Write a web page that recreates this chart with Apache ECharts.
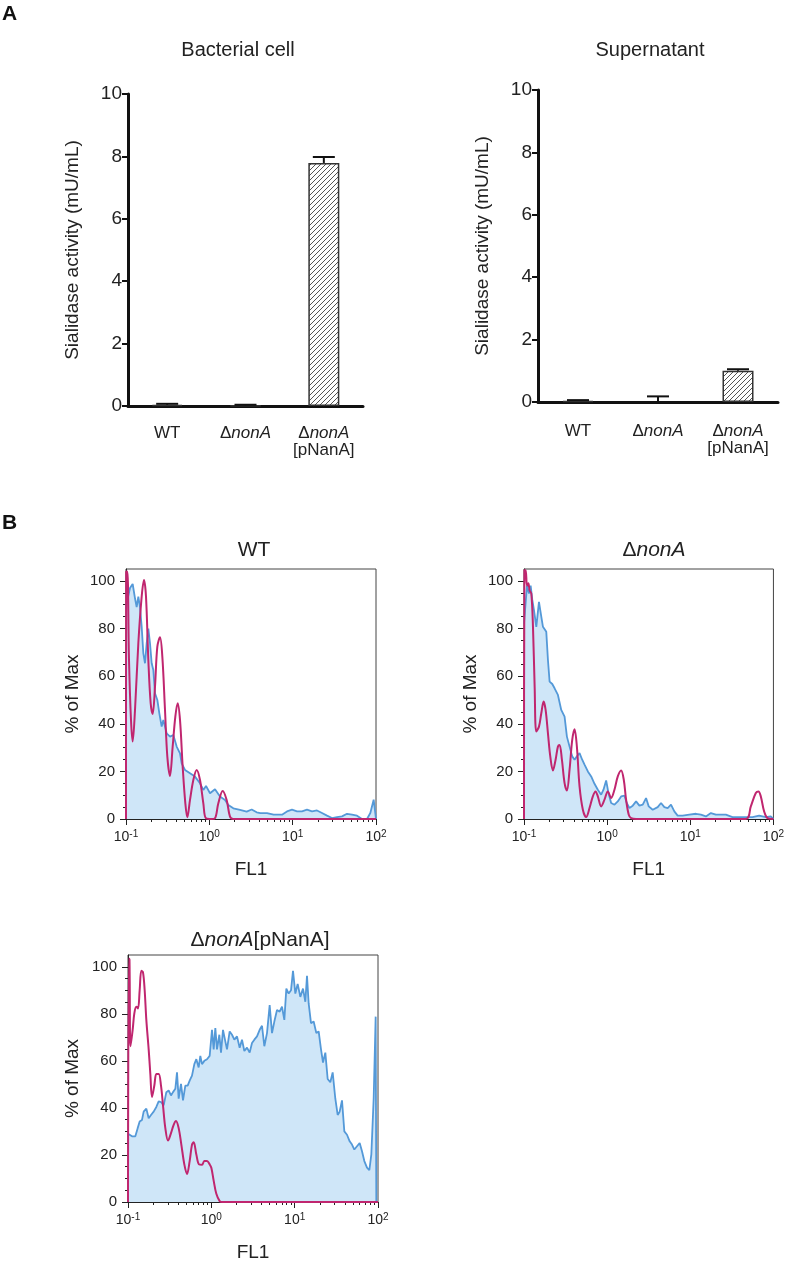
<!DOCTYPE html>
<html><head><meta charset="utf-8">
<script src="https://cdn.jsdelivr.net/npm/echarts@6/dist/echarts.min.js"></script>
<style>html,body{margin:0;padding:0;background:#fff}#c{width:787px;height:1263px}</style>
</head><body><div id="c"></div>
<script>
// ---------- Panel A data ----------
const barCategories = ['WT', 'ΔnonA', 'ΔnonA[pNanA]'];
const cellMeans = [0.04, 0.02, 7.79];
const cellErrors = [0.03, 0.02, 0.19];
const supernatantMeans = [0.03, -0.02, 1.0];
const supernatantErrors = [0.03, 0.2, 0.05];
const activityTicks = [0, 2, 4, 6, 8, 10];

// ---------- Panel B data: [log10(FL1), % of Max] ----------
const histYTicks = [0, 20, 40, 60, 80, 100];
const histYMinorTicks = [5, 10, 15, 25, 30, 35, 45, 50, 55, 65, 70, 75, 85, 90, 95];
const histXDecades = [-1, 0, 1, 2];
const histXMinorTicks = [2, 3, 4, 5, 6, 7, 8, 9]; // multiples within each decade

const wtBlue = [[-1.0,88],[-0.992,90.6],[-0.952,97],[-0.92,98.7],[-0.892,92.7],[-0.872,89],[-0.852,93.4],[-0.832,89],[-0.812,80.8],[-0.792,69.6],[-0.772,65.4],[-0.752,73.8],[-0.732,80],[-0.712,73.8],[-0.692,65.4],[-0.672,62.6],[-0.652,52.8],[-0.624,50],[-0.6,44.4],[-0.572,38.8],[-0.552,41.6],[-0.512,36],[-0.472,34.6],[-0.432,35.3],[-0.392,30.4],[-0.352,27.6],[-0.332,23.4],[-0.292,20.6],[-0.232,19.2],[-0.172,17.8],[-0.112,15],[-0.072,12.2],[-0.04,13.9],[0.008,10.8],[0.068,12.5],[0.128,9.4],[0.188,8],[0.228,5.9],[0.288,4.5],[0.368,3.8],[0.448,3.1],[0.508,4],[0.568,2.8],[0.612,2.5],[0.692,2.5],[0.772,1.8],[0.872,1.8],[0.932,3.2],[0.992,3.9],[1.052,3.2],[1.112,3.2],[1.172,3.9],[1.232,3.2],[1.292,3.6],[1.352,2.5],[1.412,1.4],[1.472,0.4],[1.532,0.8],[1.592,1.1],[1.652,2.2],[1.712,1.8],[1.772,1.4],[1.832,0],[1.892,0],[1.932,2.5],[1.972,8.1],[2.0,0]];
const wtMagenta = [[-1.0,0],[-0.998,104],[-0.984,104],[-0.964,66.8],[-0.94,41.6],[-0.92,32.5],[-0.892,45.8],[-0.852,73.8],[-0.812,93.4],[-0.784,100.4],[-0.76,93.4],[-0.732,66.8],[-0.704,48.6],[-0.68,44.1],[-0.652,55.6],[-0.624,72.4],[-0.592,76.3],[-0.564,68.2],[-0.532,45.8],[-0.504,26.2],[-0.472,18.1],[-0.44,30.4],[-0.408,43],[-0.38,48.6],[-0.352,41.6],[-0.32,22],[-0.288,6.6],[-0.264,0.7],[-0.232,8],[-0.192,16.4],[-0.152,20.6],[-0.112,16.4],[-0.072,6.6],[-0.04,0.3],[0.028,0],[0.068,0.3],[0.108,6.6],[0.16,11.8],[0.208,8],[0.248,1],[0.288,0],[2.0,0]];

const nonABlue = [[-1.0,82],[-0.98,82],[-0.964,98],[-0.94,94.7],[-0.92,98],[-0.9,92],[-0.88,87.7],[-0.852,80.7],[-0.82,91.2],[-0.792,85],[-0.772,80.7],[-0.752,81.4],[-0.732,78.6],[-0.712,66.8],[-0.692,57.7],[-0.66,56.7],[-0.632,54.9],[-0.592,52.1],[-0.552,45.8],[-0.512,43],[-0.484,34.6],[-0.452,30.4],[-0.42,26.3],[-0.392,24.9],[-0.364,26.3],[-0.332,27.7],[-0.3,24.9],[-0.272,22.8],[-0.232,20],[-0.192,17.9],[-0.152,14.8],[-0.112,12.3],[-0.072,10.2],[-0.044,12.3],[-0.012,16.2],[0.016,10.9],[0.048,6.7],[0.088,6],[0.128,7.4],[0.168,9.5],[0.208,9.8],[0.236,6.7],[0.268,4.6],[0.308,5.6],[0.348,7.4],[0.388,5.6],[0.428,6],[0.468,8.8],[0.5,5.3],[0.548,3.9],[0.608,5],[0.648,6.7],[0.688,5],[0.728,4.6],[0.768,6],[0.808,3.2],[0.848,1.4],[0.908,1.4],[0.988,1.8],[1.068,2.2],[1.128,1.8],[1.188,1.1],[1.248,2.5],[1.308,1.8],[1.368,1.8],[1.428,1.8],[1.508,0.8],[1.588,0.8],[1.668,0.8],[1.748,0.8],[1.828,1.4],[1.908,0.8],[1.968,1.1],[2.0,0]];
const nonAMagenta = [[-1.0,0],[-0.995,104.5],[-0.98,104.5],[-0.964,98],[-0.948,99],[-0.932,96],[-0.912,94.7],[-0.892,80.7],[-0.872,55.6],[-0.852,36.7],[-0.82,38.8],[-0.792,44.4],[-0.764,49.3],[-0.74,45.8],[-0.712,36],[-0.684,26.3],[-0.652,20.4],[-0.62,24.9],[-0.592,30.4],[-0.572,31.1],[-0.544,24.9],[-0.512,15.1],[-0.484,12],[-0.452,20.7],[-0.42,33.2],[-0.392,37.7],[-0.364,30.4],[-0.332,13.7],[-0.292,3.9],[-0.252,0.8],[-0.212,4.6],[-0.172,9.5],[-0.14,11.6],[-0.112,9.5],[-0.072,5.3],[-0.032,8.1],[0.008,11.6],[0.048,8.8],[0.088,12.3],[0.128,17.9],[0.168,20.4],[0.2,16.5],[0.228,8.1],[0.26,1.8],[0.288,0.4],[0.348,0],[1.668,0],[1.728,5.3],[1.788,10.9],[1.82,11.6],[1.848,9.5],[1.888,3.2],[1.928,0.4],[2.0,0]];

const pNanABlue = [[-1.0,29],[-0.98,28.6],[-0.952,27.9],[-0.912,27.9],[-0.884,31.4],[-0.86,34.2],[-0.832,34.9],[-0.812,38.4],[-0.78,39.7],[-0.752,35.6],[-0.724,37],[-0.692,38.4],[-0.66,40.4],[-0.632,42.8],[-0.604,42.5],[-0.572,41.1],[-0.54,46.7],[-0.512,47.4],[-0.484,45.3],[-0.46,46.7],[-0.432,48.1],[-0.412,55.1],[-0.392,43.9],[-0.364,50.2],[-0.34,43.2],[-0.312,49.5],[-0.284,49.5],[-0.26,51.6],[-0.232,53.7],[-0.204,58.6],[-0.18,60.7],[-0.152,57.2],[-0.132,62.1],[-0.112,58.6],[-0.084,60],[-0.052,60.7],[-0.02,62.1],[0.008,73.2],[0.028,64.9],[0.048,73.9],[0.068,64.9],[0.096,71.1],[0.116,63.5],[0.14,73.2],[0.168,68.3],[0.188,64.9],[0.22,72.5],[0.248,71.1],[0.276,69],[0.308,70.4],[0.34,65.6],[0.368,69],[0.396,64.2],[0.428,65.6],[0.46,63.5],[0.488,67.6],[0.516,69],[0.548,70.4],[0.58,73.2],[0.608,74.9],[0.636,66.2],[0.668,71.8],[0.7,83.7],[0.728,71.8],[0.756,76.7],[0.788,81.6],[0.82,80.9],[0.848,83],[0.876,77.4],[0.9,90.7],[0.928,88.6],[0.956,90],[0.98,98.3],[1.008,88.6],[1.036,92.7],[1.068,87.2],[1.1,90.7],[1.128,85.1],[1.148,96.2],[1.168,84.4],[1.196,76],[1.228,76.7],[1.26,71.8],[1.288,72.5],[1.316,64.9],[1.34,59.3],[1.368,63.5],[1.396,52.3],[1.428,50.9],[1.456,55.1],[1.488,43.9],[1.516,37],[1.54,38.4],[1.568,43.2],[1.596,30],[1.628,28.6],[1.66,25.8],[1.688,24.4],[1.716,22.3],[1.748,23.7],[1.78,25.1],[1.808,21.6],[1.836,17.4],[1.868,14.6],[1.896,13.5],[1.92,20.2],[1.948,43.9],[1.972,78.8],[1.98,0]];
const pNanAMagenta = [[-1.0,0],[-0.99,103.5],[-0.982,103],[-0.97,66.2],[-0.944,73.2],[-0.924,80.2],[-0.9,83],[-0.88,82.3],[-0.86,90],[-0.84,98.3],[-0.82,97.6],[-0.8,90],[-0.78,77.4],[-0.752,64.9],[-0.732,54.4],[-0.712,44.6],[-0.684,49.5],[-0.66,54.4],[-0.632,54.4],[-0.604,49.5],[-0.58,41.1],[-0.552,31.4],[-0.52,26.1],[-0.484,29.3],[-0.452,32.8],[-0.424,34.4],[-0.392,31.4],[-0.36,24.4],[-0.324,16],[-0.292,11.9],[-0.26,17.4],[-0.232,24.4],[-0.212,25.4],[-0.18,20.2],[-0.148,16],[-0.112,15.8],[-0.084,17.4],[-0.052,17.4],[-0.02,16],[0.0,14.6],[0.028,9.1],[0.06,3.5],[0.1,0.4],[0.128,0],[2.0,0]];

// ---------- Styles ----------
const FONT = '"Liberation Sans", Arial, Helvetica, sans-serif';
const TXT = '#222';
const BLUE = '#5499d8';
const BLUE_FILL = '#cfe6f8';
const MAGENTA = '#c0266f';

// hatch pattern for bars
const hc = document.createElement('canvas');
hc.width = 5; hc.height = 5;
const hg = hc.getContext('2d');
hg.fillStyle = '#fff'; hg.fillRect(0, 0, 5, 5);
hg.strokeStyle = '#555'; hg.lineWidth = 1;
hg.beginPath();
hg.moveTo(0, 5); hg.lineTo(5, 0);
hg.moveTo(-1, 1); hg.lineTo(1, -1);
hg.moveTo(4, 6); hg.lineTo(6, 4);
hg.stroke();

const catRich = { d: { fontSize: 17, fontFamily: FONT, color: TXT }, i: { fontSize: 17, fontStyle: 'italic', fontFamily: FONT, color: TXT } };
function catLabel(c) {
  if (c === 'WT') return 'WT';
  if (c === 'ΔnonA') return '{d|Δ}{i|nonA}';
  return '{d|Δ}{i|nonA}\n[pNanA]';
}

const xLog = [];
histXDecades.slice(0, -1).forEach(d => histXMinorTicks.forEach(m => xLog.push(d + Math.log10(m))));

const grids = [
  { left: 128, top: 94, width: 235, height: 312 },
  { left: 538, top: 90, width: 240, height: 312 },
  { left: 126, top: 569, width: 250, height: 250, show: true, borderColor: '#444', borderWidth: 1 },
  { left: 524, top: 569, width: 250, height: 250, show: true, borderColor: '#444', borderWidth: 1 },
  { left: 128, top: 955, width: 250, height: 250, show: true, borderColor: '#444', borderWidth: 1 }
];

const xAxes = [], yAxes = [], series = [];

function barPanel(gi, means, errs, labelMargin) {
  xAxes.push({
    type: 'category', gridIndex: gi, data: barCategories,
    axisLine: { onZero: false, lineStyle: { color: '#111', width: 3 } },
    axisTick: { show: false },
    axisLabel: { interval: 0, margin: labelMargin, fontSize: 17, fontFamily: FONT, color: TXT, formatter: catLabel, rich: catRich, lineHeight: 17 }
  });
  yAxes.push({
    type: 'value', gridIndex: gi, min: activityTicks[0], max: activityTicks[activityTicks.length - 1], interval: 2,
    name: 'Sialidase activity (mU/mL)', nameLocation: 'middle', nameGap: 46,
    nameTextStyle: { fontSize: 19, fontFamily: FONT, color: TXT },
    axisLine: { show: true, onZero: false, lineStyle: { color: '#111', width: 3 } },
    axisTick: { show: true, length: 6, lineStyle: { color: '#111', width: 2 } },
    axisLabel: { fontSize: 19, fontFamily: FONT, color: TXT, margin: 6 },
    splitLine: { show: false }
  });
  const ax = xAxes.length - 1, ay = yAxes.length - 1;
  series.push({
    type: 'bar', xAxisIndex: ax, yAxisIndex: ay, data: means, barWidth: 31,
    itemStyle: { color: { image: hc, repeat: 'repeat' }, borderColor: '#333', borderWidth: 1.5 },
    z: 2
  });
  series.push({
    type: 'custom', xAxisIndex: ax, yAxisIndex: ay, z: 3,
    data: means.map((m, i) => [i, m, errs[i]]),
    encode: { x: 0, y: 1 },
    renderItem: function (params, api) {
      const x = api.value(0), m = api.value(1), e = api.value(2);
      const p0 = api.coord([x, m]);
      const p1 = api.coord([x, m + e]);
      const hw = 11;
      return {
        type: 'group', children: [
          { type: 'line', shape: { x1: p0[0], y1: p0[1], x2: p1[0], y2: p1[1] }, style: { stroke: '#111', lineWidth: 2 } },
          { type: 'line', shape: { x1: p1[0] - hw, y1: p1[1], x2: p1[0] + hw, y2: p1[1] }, style: { stroke: '#111', lineWidth: 2 } }
        ]
      };
    }
  });
}

function histPanel(gi, blue, magenta, yNameGap) {
  xAxes.push({
    type: 'value', gridIndex: gi, position: 'bottom', min: -1, max: 2, interval: 1,
    name: 'FL1', nameLocation: 'middle', nameGap: 41,
    nameTextStyle: { fontSize: 19, fontFamily: FONT, color: TXT },
    axisLine: { show: true, onZero: false, lineStyle: { color: '#222', width: 1 } },
    axisTick: { show: true, length: 6, lineStyle: { color: '#222', width: 1 } },
    axisLabel: {
      margin: 10, fontFamily: FONT, color: TXT,
      formatter: v => '{b|10}{s|' + v + '}',
      rich: { b: { fontSize: 14, fontFamily: FONT, color: TXT, lineHeight: 16 }, s: { fontSize: 10, fontFamily: FONT, color: TXT, verticalAlign: 'top', lineHeight: 10 } }
    },
    splitLine: { show: false }
  });
  const ax = xAxes.length - 1;
  xAxes.push({
    type: 'value', gridIndex: gi, position: 'bottom', min: -1, max: 2,
    axisLine: { show: false, onZero: false },
    axisTick: { show: true, length: 3, customValues: xLog, lineStyle: { color: '#222', width: 1 } },
    axisLabel: { show: false }, splitLine: { show: false }
  });
  yAxes.push({
    type: 'value', gridIndex: gi, position: 'left', min: 0, max: 105, interval: 20,
    name: '% of Max', nameLocation: 'middle', nameGap: yNameGap,
    nameTextStyle: { fontSize: 19, fontFamily: FONT, color: TXT },
    axisLine: { show: true, onZero: false, lineStyle: { color: '#222', width: 1 } },
    axisTick: { show: true, length: 6, customValues: histYTicks, lineStyle: { color: '#222', width: 1 } },
    axisLabel: { fontSize: 15, fontFamily: FONT, color: TXT, margin: 11, customValues: histYTicks },
    splitLine: { show: false }
  });
  const ay = yAxes.length - 1;
  yAxes.push({
    type: 'value', gridIndex: gi, position: 'left', min: 0, max: 105,
    axisLine: { show: false, onZero: false },
    axisTick: { show: true, length: 3, customValues: histYMinorTicks, lineStyle: { color: '#222', width: 1 } },
    axisLabel: { show: false }, splitLine: { show: false }
  });
  series.push({
    type: 'line', xAxisIndex: ax, yAxisIndex: ay, data: blue, showSymbol: false, smooth: false,
    lineStyle: { color: BLUE, width: 1.8 }, areaStyle: { color: BLUE_FILL, opacity: 1 }, z: 2
  });
  series.push({
    type: 'line', xAxisIndex: ax, yAxisIndex: ay, data: magenta, showSymbol: false, smooth: 0.35,
    lineStyle: { color: MAGENTA, width: 2 }, z: 3
  });
}

barPanel(0, cellMeans, cellErrors, 19);
barPanel(1, supernatantMeans, supernatantErrors, 21);
histPanel(2, wtBlue, wtMagenta, 44);
histPanel(3, nonABlue, nonAMagenta, 44);
histPanel(4, pNanABlue, pNanAMagenta, 46);

const titleRich = {
  d: { fontSize: 21, fontFamily: FONT, color: TXT },
  i: { fontSize: 21, fontStyle: 'italic', fontFamily: FONT, color: TXT },
  n: { fontSize: 21, fontFamily: FONT, color: TXT }
};
function t(text, left, top, size, extra) {
  return Object.assign({
    text: text, left: left, top: top, padding: 0, textAlign: 'center',
    textStyle: { fontSize: size, fontWeight: 'normal', fontFamily: FONT, color: TXT, rich: titleRich }
  }, extra || {});
}

const titles = [
  { text: 'A', left: 2, top: 4, padding: 0, textStyle: { fontSize: 21, fontWeight: 'bold', fontFamily: FONT, color: '#111' } },
  { text: 'B', left: 2, top: 513, padding: 0, textStyle: { fontSize: 21, fontWeight: 'bold', fontFamily: FONT, color: '#111' } },
  t('Bacterial cell', 238, 40, 20),
  t('Supernatant', 650, 40, 20),
  t('WT', 254, 540, 21),
  t('{d|Δ}{i|nonA}', 654, 540, 21),
  t('{d|Δ}{i|nonA}{n|[pNanA]}', 260, 930, 21)
];

const chart = echarts.init(document.getElementById('c'), null, { renderer: 'canvas' });
chart.setOption({
  animation: false,
  backgroundColor: '#fff',
  title: titles,
  grid: grids,
  xAxis: xAxes,
  yAxis: yAxes,
  series: series
});
</script>
</body></html>
